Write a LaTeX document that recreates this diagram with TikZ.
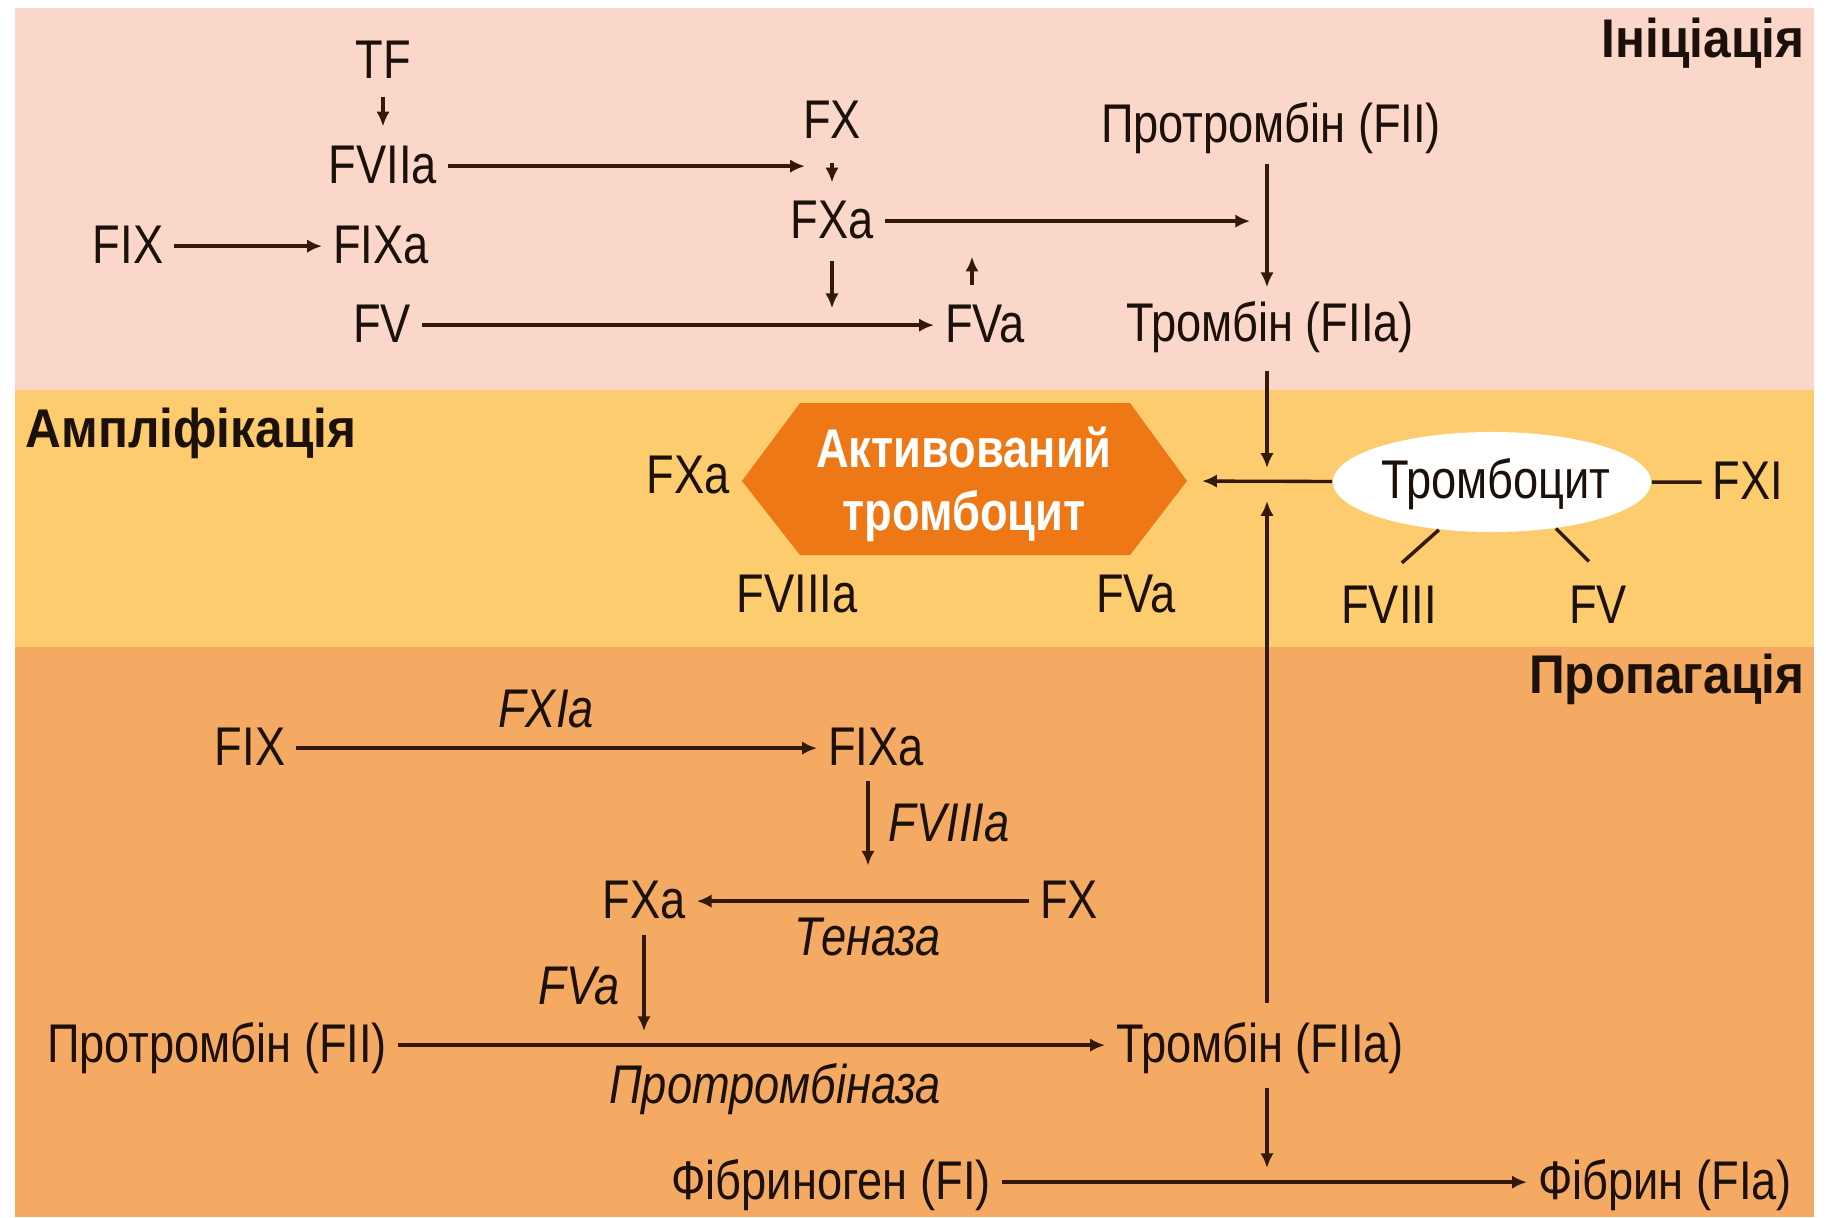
\documentclass[tikz,border=0pt]{standalone}
\usepackage{fontspec}
\setmainfont{Liberation Sans}[FakeStretch=0.83]
\newfontfamily\hdrfont{Liberation Sans}[FakeStretch=0.91]
\usetikzlibrary{arrows.meta,shapes.geometric}
\definecolor{pinkbg}{RGB}{250,215,200}
\definecolor{yellowbg}{RGB}{252,204,110}
\definecolor{orangebg}{RGB}{245,170,100}
\definecolor{hexcol}{RGB}{238,120,22}
\definecolor{linecol}{RGB}{50,25,10}
\definecolor{txtcol}{RGB}{28,16,10}
\begin{document}
\begin{tikzpicture}[x=0.01cm,y=-0.01cm,
  lbl/.style={font=\fontsize{15.5}{18}\selectfont, text=txtcol, text height=12.4pt, text depth=2.8pt, inner xsep=3pt, inner ysep=0pt, anchor=base},
  itl/.style={lbl, font=\fontsize{15.5}{18}\selectfont\itshape},
  hdr/.style={font=\hdrfont\fontsize{15.5}{18}\selectfont\bfseries, text=txtcol, inner sep=0pt},
  hextxt/.style={font=\fontsize{15.5}{18}\selectfont\bfseries, text=white, inner sep=0pt, anchor=base},
  arr/.style={draw=linecol, line width=0.95pt, -{Latex[length=4.2pt,width=3.8pt]}},
  ln/.style={draw=linecol, line width=1pt},
]
% background bands
\fill[white] (0,0) rectangle (1826,1217);
\fill[pinkbg] (15,8) rectangle (1814,390);
\fill[yellowbg] (15,390) rectangle (1814,647);
\fill[orangebg] (15,647) rectangle (1814,1217);
\useasboundingbox (0,0) rectangle (1826,1217);
\coordinate (vl) at (1267,0);

% headers
\node[hdr, anchor=base east] (hinit) at (1805,57) {Ініціація};
\node[hdr, anchor=base west] (hampl) at (25,447) {Ампліфікація};
\node[hdr, anchor=base east] (hprop) at (1805,693) {Пропагація};

% ---------- Initiation ----------
\node[lbl] (tf) at (383,78) {TF};
\node[lbl] (fviia) at (383,183) {FVIIa};
\node[lbl] (fix1) at (128,263) {FIX};
\node[lbl] (fixa1) at (381,263) {FIXa};
\node[lbl] (fv1) at (382,342) {FV};
\node[lbl] (fx1) at (832,138) {FX};
\node[lbl] (fxa1) at (832,238) {FXa};
\node[lbl] (fva1) at (985,342) {FVa};
\node[lbl] (prot1) at (1271,142) {Протромбін (FII)};
\node[lbl] (thr1) at (1270,341) {Тромбін (FIIa)};

\draw[arr, shorten <=2.5pt, shorten >=3.5pt] (tf) -- (fviia);
\draw[arr, shorten >=7.7pt] (fviia) -- (fviia -| fx1);
\draw[arr, shorten <=4pt, shorten >=3.2pt] (fx1) -- (fxa1);
\draw[arr] (fix1) -- (fixa1);
\draw[arr, shorten >=4.8pt] (fxa1) -- (fxa1 -| vl);
\draw[arr] (fv1) -- (fva1);
\draw[arr, shorten <=3.4pt, shorten >=4.8pt] (fxa1) -- (fxa1 |- fv1);
\draw[arr] ([xshift=-0.13cm]fva1.north) ++(0,-13) -- ++(0,-28);
\draw[arr, shorten <=3.2pt, shorten >=2.7pt] (prot1.south -| vl) -- (thr1.north -| vl);

% ---------- Amplification ----------
\fill[hexcol] (742,481) -- (800,403) -- (1130,403) -- (1187,481) -- (1130,555) -- (800,555) -- cycle;
\coordinate (hexR) at (1187,481);
\node[hextxt] (hexa) at (964,467) {Активований};
\node[hextxt] (hexb) at (964,530) {тромбоцит};

\node[ellipse, fill=white, minimum width=3.18cm, minimum height=1.0cm, inner sep=0pt] (ell) at (1492,482) {};
\node[lbl] (plt) at (1496,498) {Тромбоцит};
\node[lbl] (fxa0) at (688,493) {FXa};
\node[lbl] (fviiia0) at (797,612) {FVIIIa};
\node[lbl] (fva0) at (1136,612) {FVa};
\node[lbl] (fviii) at (1389,623) {FVIII};
\node[lbl] (fv0) at (1598,623) {FV};
\node[lbl] (fxi) at (1748,499) {FXI};

\draw[arr, shorten <=5.4pt, shorten >=4pt] (thr1.south -| vl) -- (ell -| vl);
\draw[arr, shorten >=4.3pt] (ell) -- (hexR);
\draw[ln] (ell) -- (fxi);
\draw[ln] (ell.222) -- ++(-37,33);
\draw[ln] (ell.324) -- ++(33,33);

% ---------- Propagation ----------
\node[itl] (fxia) at (546,727) {FXIa};
\node[lbl] (fix2) at (250,765) {FIX};
\node[lbl] (fixa2) at (876,765) {FIXa};
\node[itl] (fviiial) at (949,841) {FVIIIa};
\node[lbl] (fxa2) at (644,918) {FXa};
\node[lbl] (fx2) at (1069,918) {FX};
\node[itl] (tenase) at (868,955) {Теназа};
\node[itl] (fval) at (579,1004) {FVa};
\node[lbl] (prot2) at (217,1062) {Протромбін (FII)};
\node[lbl] (thr2) at (1260,1062) {Тромбін (FIIa)};
\node[itl] (protase) at (775,1103) {Протромбіназа};
\node[lbl] (fbg) at (831,1199) {Фібриноген (FI)};
\node[lbl] (fbn) at (1665,1199) {Фібрин (FIa)};

\draw[arr] (fix2) -- (fixa2);
\draw[arr] ([xshift=-0.08cm]fixa2.south) ++(0,5) -- ++(0,85);
\draw[arr] (fx2) -- (fxa2);
\draw[arr, shorten <=1.7pt, shorten >=4pt] (fxa2) -- (fxa2 |- prot2);
\draw[arr] (prot2) -- (thr2);
\draw[arr, shorten <=4.3pt, shorten >=5.4pt] (thr2.north -| vl) -- (ell -| vl);
\draw[arr, shorten <=4.3pt, shorten >=4pt] (thr2.south -| vl) -- (fbg -| vl);
\draw[arr] (fbg) -- (fbn);
\end{tikzpicture}
\end{document}
